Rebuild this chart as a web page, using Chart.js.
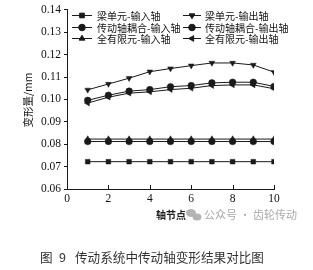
<!DOCTYPE html>
<html>
<head>
<meta charset="utf-8">
<script src="https://cdn.jsdelivr.net/npm/chart.js@4.4.1/dist/chart.umd.min.js"></script>
<style>
  html,body{margin:0;padding:0;background:#fff;}
  #wrap{width:313px;height:270px;position:relative;}
</style>
</head>
<body>
<div id="wrap"><canvas id="c" width="313" height="270"></canvas></div>
<script>
// values (deformation, mm) at shaft nodes 1..10
const nodes = [1,2,3,4,5,6,7,8,9,10];
const beamIn    = [0.0722,0.0722,0.0722,0.0722,0.0722,0.0722,0.0722,0.0722,0.0722,0.0722];
const beamOut   = [0.1043,0.1069,0.1095,0.1124,0.1138,0.1151,0.1163,0.1163,0.1154,0.1122];
const coupleIn  = [0.0812,0.0812,0.0812,0.0812,0.0812,0.0812,0.0812,0.0812,0.0812,0.0812];
const coupleOut = [0.0996,0.1019,0.1037,0.1044,0.1057,0.1062,0.1074,0.1077,0.1077,0.1058];
const feIn      = [0.0823,0.0823,0.0823,0.0823,0.0823,0.0823,0.0823,0.0823,0.0823,0.0823];
const feOut     = [0.0984,0.1010,0.1028,0.1034,0.1044,0.1050,0.1062,0.1065,0.1065,0.1048];
const yTicks = [0.06,0.07,0.08,0.09,0.10,0.11,0.12,0.13,0.14];
const xTicks = [0,2,4,6,8,10];

const INK = '#1a1a1a';
const CJK = '"Noto Sans CJK SC", "Noto Sans", sans-serif';
const SERIF = '"Liberation Serif", "DejaVu Serif", serif';

function ds(label, vals, style, rot){
  return {
    label, data: nodes.map((n,i)=>({x:n, y:vals[i]})),
    borderColor: INK, backgroundColor: INK, borderWidth: 1,
    pointStyle: style, pointRotation: rot||0, pointRadius: 3.3,
    pointBorderWidth: 0.5, tension: 0
  };
}
const datasets = [
  ds('梁单元-输入轴', beamIn, 'rect'),
  ds('传动轴耦合-输入轴', coupleIn, 'circle'),
  ds('全有限元-输入轴', feIn, 'triangle'),
  ds('梁单元-输出轴', beamOut, 'triangle', 180),
  ds('传动轴耦合-输出轴', coupleOut, 'circle'),
  ds('全有限元-输出轴', feOut, 'triangle', 270)
];

// legend (2 columns), axis titles, inward x ticks, watermark, caption
const deco = {
  id:'deco',
  afterDraw(chart){
    const ctx = chart.ctx, a = chart.chartArea, xs = chart.scales.x;
    ctx.save();
    // x ticks pointing into the plot
    ctx.strokeStyle = INK; ctx.lineWidth = 1;
    xTicks.forEach(t=>{
      const px = Math.round(xs.getPixelForValue(t))+0.5;
      ctx.beginPath(); ctx.moveTo(px, a.bottom); ctx.lineTo(px, a.bottom-4); ctx.stroke();
    });
    // legend
    const cols = [{x0:72,x1:92,tx:97},{x0:183,x1:201,tx:205}];
    const rows = [15,27,38];
    ctx.font = '10px '+CJK; ctx.textBaseline='middle'; ctx.textAlign='left';
    chart.data.datasets.forEach((d,i)=>{
      const c = cols[Math.floor(i/3)], y = rows[i%3];
      ctx.strokeStyle = INK; ctx.lineWidth = 1;
      ctx.beginPath(); ctx.moveTo(c.x0, y+0.5); ctx.lineTo(c.x1, y+0.5); ctx.stroke();
      ctx.fillStyle = INK;
      Chart.helpers.drawPoint(ctx, {pointStyle:d.pointStyle, rotation:d.pointRotation, radius:3.3, borderWidth:0.5}, (c.x0+c.x1)/2, y+0.5);
      ctx.fillStyle = '#111';
      ctx.fillText(d.label, c.tx, y+1);
    });
    // y title
    ctx.save();
    ctx.translate(28, 100); ctx.rotate(-Math.PI/2);
    ctx.textAlign='center'; ctx.font='10.5px '+CJK; ctx.fillStyle='#111';
    ctx.fillText('变形量/mm', 0, 0);
    ctx.restore();
    // x title
    ctx.textAlign='center'; ctx.font='bold 10px '+CJK; ctx.fillStyle='#222';
    ctx.fillText('轴节点', 171, 215);
    // watermark
    ctx.fillStyle='#b4b4b4';
    ctx.beginPath(); ctx.ellipse(191, 213, 5, 4, 0, 0, Math.PI*2); ctx.fill();
    ctx.beginPath(); ctx.ellipse(197, 217, 4.5, 3.6, 0, 0, Math.PI*2); ctx.fill();
    ctx.fillStyle='#aaaaaa'; ctx.textAlign='left'; ctx.font='11px '+CJK;
    ctx.fillText('公众号 · 齿轮传动', 204, 215);
    // caption
    ctx.fillStyle='#333'; ctx.font='12.6px '+CJK; ctx.textAlign='left';
    ctx.fillText('图', 40, 257);
    ctx.fillText('9', 59, 257);
    ctx.fillText('传动系统中传动轴变形结果对比图', 75, 257);
    ctx.restore();
  }
};

new Chart(document.getElementById('c'), {
  type:'line',
  data:{datasets},
  options:{
    responsive:false, animation:false, devicePixelRatio:1,
    layout:{autoPadding:false, padding:{left:0, right:39, top:9, bottom:0}},
    plugins:{legend:{display:false}, tooltip:{enabled:false}},
    scales:{
      x:{
        type:'linear', min:0, max:10,
        afterBuildTicks(s){ s.ticks = xTicks.map(v=>({value:v})); },
        afterFit(s){ s.height = 81; },
        grid:{display:false, drawTicks:false},
        border:{display:true, color:INK, width:1},
        ticks:{color:'#111', font:{family:SERIF, size:11.5}, padding:3, maxRotation:0}
      },
      y:{
        min:0.06, max:0.14,
        afterBuildTicks(s){ s.ticks = yTicks.map(v=>({value:v})); },
        afterFit(s){ s.width = 67; },
        grid:{drawOnChartArea:false, drawTicks:true, tickLength:3, color:INK},
        border:{display:true, color:INK, width:1},
        ticks:{color:'#111', font:{family:SERIF, size:11.5}, padding:3,
          callback:v=>v.toFixed(2)}
      }
    }
  },
  plugins:[deco]
});
</script>
</body>
</html>
